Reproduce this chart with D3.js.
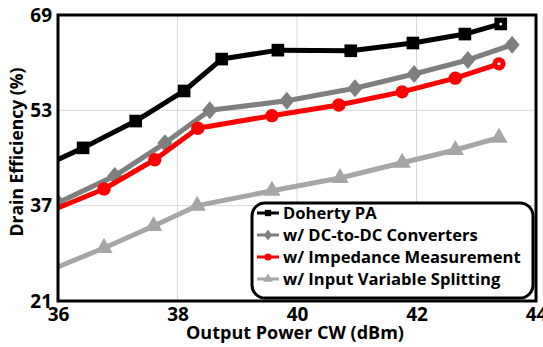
<!DOCTYPE html>
<html>
<head>
<meta charset="utf-8">
<script src="https://cdn.jsdelivr.net/npm/d3@7"></script>
<style>
  body { margin: 0; background: #fff; }
  svg text { font-family: "Open Sans", sans-serif; font-weight: bold; fill: #000; }
</style>
</head>
<body>
<div id="chart"></div>
<script>
// data
const seriesNames = ['Doherty PA', 'w/ DC-to-DC Converters', 'w/ Impedance Measurement', 'w/ Input Variable Splitting'];

const powerDoherty = [35.8, 36.42, 37.3, 38.11, 38.74, 39.68, 40.9, 41.94, 42.81, 43.41];
const effDoherty   = [43.8, 46.7, 51.2, 56.25, 61.6, 63.1, 63.0, 64.3, 65.8, 67.5];

const powerDcdc = [36.0, 36.95, 37.79, 38.54, 39.83, 40.97, 41.96, 42.86, 43.6];
const effDcdc   = [37.5, 42.0, 47.5, 53.0, 54.6, 56.7, 59.1, 61.45, 64.0];

const powerImp = [35.8, 36.77, 37.62, 38.34, 39.58, 40.7, 41.76, 42.65, 43.38];
const effImp   = [35.8, 39.8, 44.7, 50.0, 52.1, 53.9, 56.1, 58.4, 60.8];

const powerSplit = [35.8, 36.77, 37.6, 38.33, 39.58, 40.72, 41.76, 42.65, 43.38];
const effSplit   = [25.9, 29.9, 33.6, 37.0, 39.5, 41.65, 44.2, 46.35, 48.4];

const xTicks = [36, 38, 40, 42, 44];
const yTicks = [21, 37, 53, 69];

const width = 543, height = 347;
const margin = {top: 15, right: 7, bottom: 46, left: 58};
const innerW = width - margin.left - margin.right;
const innerH = height - margin.top - margin.bottom;

const x = d3.scaleLinear().domain([36, 44]).range([0, innerW]);
const y = d3.scaleLinear().domain([21, 69]).range([innerH, 0]);

const svg = d3.select('#chart').append('svg')
  .attr('width', width)
  .attr('height', height);

const g = svg.append('g')
  .attr('transform', `translate(${margin.left},${margin.top})`);

g.append('clipPath').attr('id', 'plot-clip')
  .append('rect').attr('width', innerW).attr('height', innerH);

// grid
g.append('g').selectAll('line')
  .data(xTicks.slice(1, -1))
  .enter().append('line')
  .attr('x1', d => x(d)).attr('x2', d => x(d))
  .attr('y1', 0).attr('y2', innerH)
  .attr('stroke', '#d9d9d9').attr('stroke-width', 1);

g.append('g').selectAll('line')
  .data(yTicks.slice(1, -1))
  .enter().append('line')
  .attr('x1', 0).attr('x2', innerW)
  .attr('y1', d => y(d)).attr('y2', d => y(d))
  .attr('stroke', '#d9d9d9').attr('stroke-width', 1);

// axes
const xAxis = d3.axisBottom(x).tickValues(xTicks).tickSize(0).tickPadding(7);
const yAxis = d3.axisLeft(y).tickValues(yTicks).tickSize(0).tickPadding(6);

const gx = g.append('g').attr('transform', `translate(0,${innerH})`).call(xAxis);
const gy = g.append('g').call(yAxis);
gx.select('.domain').remove();
gy.select('.domain').remove();
gx.selectAll('text').style('font-size', '19px');
gy.selectAll('text').style('font-size', '19px');

svg.append('text')
  .attr('x', margin.left + innerW / 2 - 2)
  .attr('y', 339)
  .attr('text-anchor', 'middle')
  .style('font-size', '18px')
  .text('Output Power CW (dBm)');

svg.append('text')
  .attr('transform', 'translate(23,152) rotate(-90)')
  .attr('text-anchor', 'middle')
  .style('font-size', '17.5px')
  .text('Drain Efficiency (%)');

// series
const series = [
  {name: seriesNames[3], xs: powerSplit, ys: effSplit, color: '#a6a6a6', shape: 'triangle'},
  {name: seriesNames[1], xs: powerDcdc, ys: effDcdc, color: '#7f7f7f', shape: 'diamond'},
  {name: seriesNames[2], xs: powerImp, ys: effImp, color: '#ff0000', shape: 'circle', openLast: true},
  {name: seriesNames[0], xs: powerDoherty, ys: effDoherty, color: '#000000', shape: 'square', openLast: true}
];

const symbols = {
  triangle: d3.symbolTriangle,
  diamond: d3.symbolDiamond,
  circle: d3.symbolCircle,
  square: d3.symbolSquare
};
const symSize = {triangle: 130, diamond: 165, circle: 140, square: 160};
const diamondStretch = ' scale(1.1,0.75)';

const line = d3.line().x(d => x(d[0])).y(d => y(d[1]));

const plot = g.append('g').attr('clip-path', 'url(#plot-clip)');

series.forEach(s => {
  const pts = s.xs.map((v, i) => [v, s.ys[i]]);
  plot.append('path')
    .datum(pts)
    .attr('d', line)
    .attr('fill', 'none')
    .attr('stroke', s.color)
    .attr('stroke-width', 5)
    .attr('stroke-linejoin', 'round');
  plot.selectAll(null)
    .data(pts)
    .enter().append('path')
    .attr('transform', d => `translate(${x(d[0])},${y(d[1])})${s.shape === 'diamond' ? diamondStretch : ''}`)
    .attr('d', d3.symbol().type(symbols[s.shape]).size(symSize[s.shape]))
    .attr('fill', s.color);
  if (s.openLast) {
    const last = pts[pts.length - 1];
    plot.append('circle')
      .attr('cx', x(last[0])).attr('cy', y(last[1]))
      .attr('r', 1.5).attr('fill', '#fff');
  }
});

// frame
g.append('rect')
  .attr('width', innerW).attr('height', innerH)
  .attr('fill', 'none').attr('stroke', '#000').attr('stroke-width', 3);

// legend
const legend = svg.append('g').attr('transform', 'translate(252,203)');
legend.append('rect')
  .attr('width', 281).attr('height', 95)
  .attr('rx', 13).attr('ry', 13)
  .attr('fill', '#fff').attr('stroke', '#000').attr('stroke-width', 3);

const legendOrder = [series[3], series[1], series[2], series[0]];
const rows = legend.selectAll('g.row')
  .data(legendOrder)
  .enter().append('g')
  .attr('class', 'row')
  .attr('transform', (d, i) => `translate(0,${10 + i * 22})`);

rows.append('line')
  .attr('x1', 5).attr('x2', 27)
  .attr('stroke', d => d.color).attr('stroke-width', 3);
rows.append('path')
  .attr('transform', d => `translate(16,0)${d.shape === 'diamond' ? diamondStretch : ''}`)
  .attr('d', d => d3.symbol().type(symbols[d.shape]).size(d.shape === 'diamond' ? 55 : 40)())
  .attr('fill', d => d.color);
rows.append('text')
  .attr('x', 31).attr('dy', '0.35em')
  .style('font-size', '16.6px')
  .text(d => d.name);
</script>
</body>
</html>
